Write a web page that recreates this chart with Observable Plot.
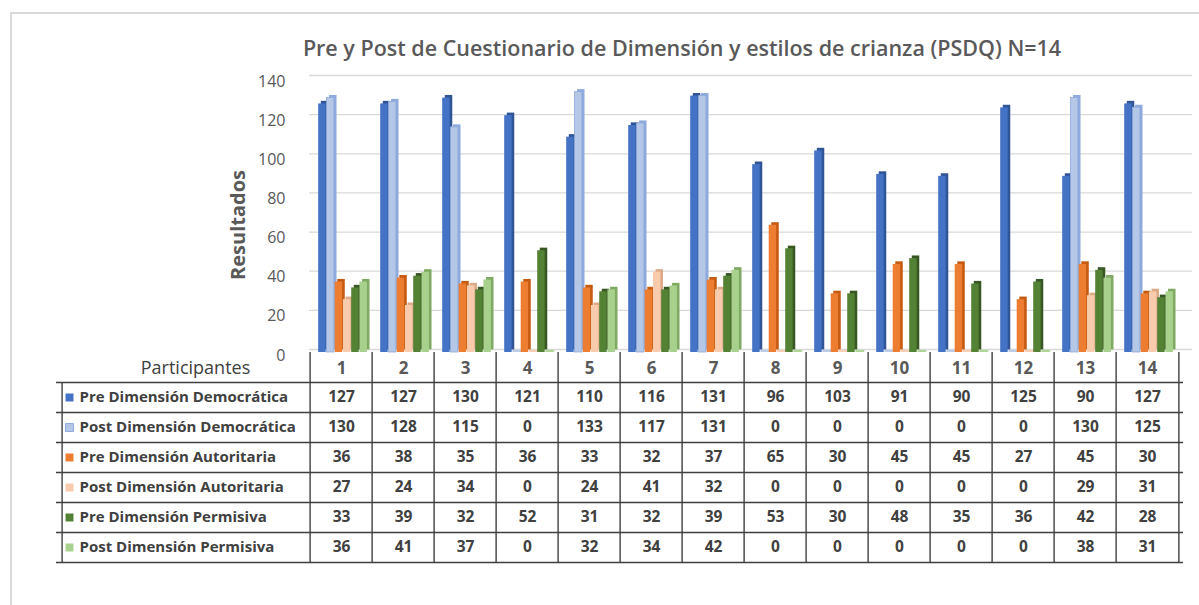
<!DOCTYPE html>
<html>
<head>
<meta charset="utf-8">
<script src="https://cdn.jsdelivr.net/npm/d3@7"></script>
<script src="https://cdn.jsdelivr.net/npm/@observablehq/plot@0.6"></script>
<style>
  html, body { margin: 0; padding: 0; background: #fff; }
  #wrap { position: relative; width: 1199px; height: 605px; overflow: hidden; font-family: 'Open Sans', sans-serif; }
  #frame { position: absolute; left: 10px; top: 12px; width: 1220px; height: 640px; border: 2px solid #d9d9d9; box-sizing: border-box; }
  #title { position: absolute; left: 182px; width: 1000px; top: 33px; text-align: center; font-size: 21.5px; font-weight: 600; color: #595959; white-space: nowrap; }
  #ylab { position: absolute; left: 237px; top: 225px; transform: translate(-50%, -50%) rotate(-90deg); font-size: 20px; font-weight: 700; color: #595959; white-space: nowrap; }
  #chart { position: absolute; left: 0; top: 60px; }
  #table { position: absolute; left: 0; top: 352px; }
</style>
</head>
<body>
<div id="wrap">
  <div id="frame"></div>
  <div id="chart"></div>
  <div id="table"></div>
  <div id="title">Pre y Post de Cuestionario de Dimensión y estilos de crianza (PSDQ) N=14</div>
  <div id="ylab">Resultados</div>
</div>
<script>
// ---- data ----
const participants = ["1","2","3","4","5","6","7","8","9","10","11","12","13","14"];
const seriesNames = [
  "Pre Dimensión Democrática",
  "Post Dimensión Democrática",
  "Pre Dimensión Autoritaria",
  "Post Dimensión Autoritaria",
  "Pre Dimensión Permisiva",
  "Post Dimensión Permisiva"
];
const preDemocratica  = [127,127,130,121,110,116,131,96,103,91,90,125,90,127];
const postDemocratica = [130,128,115,0,133,117,131,0,0,0,0,0,130,125];
const preAutoritaria  = [36,38,35,36,33,32,37,65,30,45,45,27,45,30];
const postAutoritaria = [27,24,34,0,24,41,32,0,0,0,0,0,29,31];
const prePermisiva    = [33,39,32,52,31,32,39,53,30,48,35,36,42,28];
const postPermisiva   = [36,41,37,0,32,34,42,0,0,0,0,0,38,31];
const yTicks = [0,20,40,60,80,100,120,140];
const headerLabel = "Participantes";

// ---- styles ----
const seriesColors = ["#4472C4","#B4C7E7","#ED7D31","#F8CBAD","#548235","#A9D18E"];
const seriesShade  = ["#2F5597","#8FAADC","#C55A11","#DDAA88","#385723","#7FAA62"];

const seriesValues = [preDemocratica, postDemocratica, preAutoritaria, postAutoritaria, prePermisiva, postPermisiva];
const rows = seriesValues.flatMap((vals, si) => vals.map((v, pi) => ({p: participants[pi], s: seriesNames[si], si, v})));

// ---- layout ----
const W = 1199, ML = 304, MR = 16;
const bw = (W - ML - MR) / participants.length;
const barW = 8.25, barOff = 8.2, depth = 2.6;
const font = "'Open Sans', sans-serif";

// ---- chart ----
const shadowMarks = [], frontMarks = [], floorMarks = [];
seriesNames.forEach((name, i) => {
  const insetLeft = barOff + i * barW;
  const insetRight = bw - (barOff + (i + 1) * barW);
  const d = rows.filter(r => r.si === i);
  shadowMarks.push(Plot.barY(d, {x: "p", y: "v", fill: seriesShade[i], insetLeft, insetRight, dx: depth, dy: -depth}));
  frontMarks.push(Plot.barY(d, {x: "p", y: "v", fill: seriesColors[i], insetLeft, insetRight,
    stroke: i === 1 ? "#8FAADC" : "none", strokeWidth: 0.8}));
  floorMarks.push(Plot.barY(d.filter(r => r.v === 0), {x: "p", y1: 0, y2: 0, insetTop: -depth + 0.4,
    fill: seriesColors[i], insetLeft, insetRight: insetRight - depth / 2, opacity: 0.9}));
});

const chart = Plot.plot({
  width: W, height: 293,
  marginLeft: ML, marginRight: MR, marginTop: 18, marginBottom: 1,
  style: {fontFamily: font, background: "transparent", overflow: "visible"},
  x: {type: "band", domain: participants, padding: 0, axis: null},
  y: {domain: [0, 140], axis: null},
  marks: [
    Plot.ruleY(yTicks, {y: d => d, dy: -3, stroke: "#d9d9d9", strokeWidth: 1.3, insetLeft: 5, insetRight: -9}),
    Plot.text(yTicks, {y: d => d, text: d => String(d), frameAnchor: "left", textAnchor: "end", dx: -19, dy: 3, fontSize: 16, fill: "#595959"}),
    ...floorMarks,
    ...shadowMarks,
    ...frontMarks
  ]
});
document.getElementById("chart").appendChild(chart);

// ---- data table ----
const rowH = 30;
const labelW = 248;
const lineColor = "#3f3f3f";
const table = Plot.plot({
  width: W, height: 7 * rowH + 2,
  marginLeft: ML, marginRight: MR, marginTop: 0, marginBottom: 2,
  style: {fontFamily: font, background: "transparent", overflow: "visible"},
  x: {type: "band", domain: participants, padding: 0, axis: null},
  y: {type: "band", domain: [headerLabel, ...seriesNames], padding: 0, axis: null},
  color: {type: "identity"},
  marks: [
    Plot.ruleX(participants, {x: d => d, dx: -bw / 2, stroke: lineColor, strokeWidth: 1.4}),
    Plot.ruleX([participants[participants.length - 1]], {x: d => d, dx: bw / 2, stroke: lineColor, strokeWidth: 1.4}),
    Plot.ruleX([participants[0]], {x: d => d, dx: -bw / 2 - labelW, insetTop: rowH, stroke: lineColor, strokeWidth: 1.4}),
    Plot.ruleY(seriesNames, {y: d => d, dy: -rowH / 2, insetLeft: -labelW, stroke: lineColor, strokeWidth: 1.4}),
    Plot.ruleY([seriesNames[seriesNames.length - 1]], {y: d => d, dy: rowH / 2, insetLeft: -labelW, stroke: lineColor, strokeWidth: 1.4}),
    Plot.dot(seriesNames, {y: d => d, frameAnchor: "left", dx: -235, symbol: "square", r: 4.5,
      fill: (d, i) => seriesColors[i], stroke: (d, i) => i === 1 ? "#8FAADC" : "none", strokeWidth: 1}),
    Plot.text(seriesNames, {y: d => d, frameAnchor: "left", dx: -225, textAnchor: "start", fontSize: 15, fontWeight: "bold", fill: "#404040"}),
    Plot.text(rows, {x: "p", y: "s", text: d => String(d.v), fontSize: 15.5, fontWeight: "bold", fill: "#404040"}),
    Plot.text(participants, {x: d => d, y: () => headerLabel, text: d => d, fontSize: 17, fontWeight: "bold", fill: "#595959", dy: 1}),
    Plot.text([headerLabel], {y: d => d, frameAnchor: "left", dx: -109, textAnchor: "middle", fontSize: 18, fill: "#404040", dy: 1})
  ]
});
document.getElementById("table").appendChild(table);
</script>
</body>
</html>
